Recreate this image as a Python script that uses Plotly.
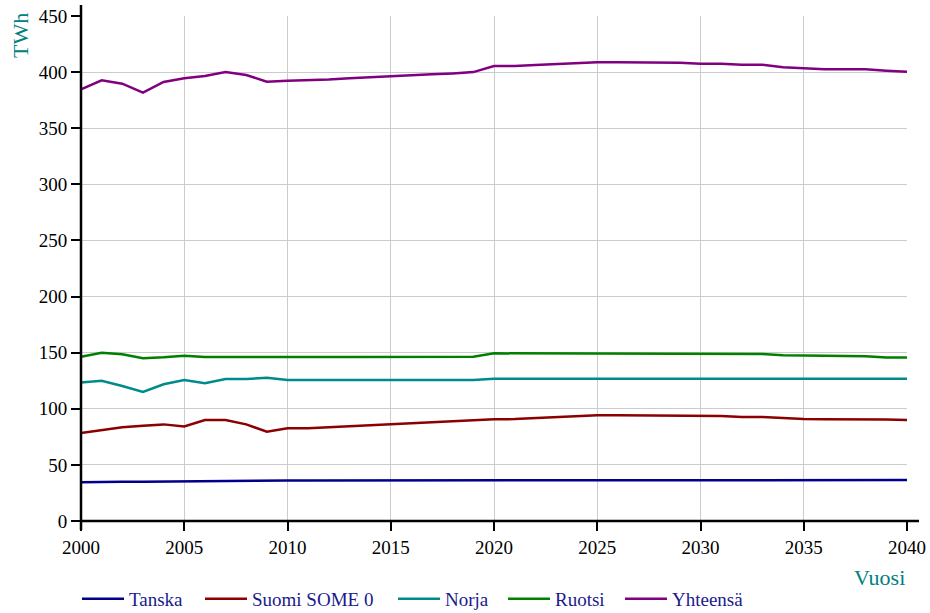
import plotly.graph_objects as go

years = list(range(2000, 2041))

tanska = [34.5, 35.0, 35.0, 35.0, 35.2, 35.5, 35.8, 36.0, 36.1, 36.1, 36.1,
          36.1, 36.1, 36.1, 36.1, 36.1, 36.1, 36.1, 36.1, 36.1, 36.5,
          36.5, 36.5, 36.5, 36.5, 36.5, 36.5, 36.5, 36.5, 36.5, 36.5,
          36.5, 36.5, 36.5, 36.5, 36.5, 36.5, 36.5, 36.5, 36.5, 36.5]

suomi = [78.4, 80.8, 83.5, 84.9, 86.1, 84.3, 90.0, 90.0, 86.1, 79.6, 82.6,
         82.6, 83.5, 84.3, 85.3, 86.3, 87.3, 87.6, 88.6, 89.6, 90.6,
         90.8, 91.6, 92.5, 93.4, 94.2, 94.2, 94.2, 93.6, 93.6, 93.6,
         93.6, 92.6, 92.6, 91.8, 90.9, 90.7, 90.7, 90.7, 90.5, 89.9]

norja = [123.5, 125.0, 120.3, 115.0, 121.8, 125.6, 122.7, 126.5, 126.5, 127.7, 125.6,
         125.6, 125.6, 125.6, 125.6, 125.6, 125.6, 125.6, 125.6, 125.6, 126.8,
         126.8, 126.8, 126.8, 126.8, 126.8, 126.8, 126.8, 126.8, 126.8, 126.8,
         126.8, 126.8, 126.8, 126.8, 126.8, 126.8, 126.8, 126.8, 126.8, 126.8]

ruotsi = [146.4, 150.0, 148.5, 145.0, 145.9, 147.3, 146.1, 146.0, 146.0, 146.0, 146.0,
          146.0, 146.1, 146.1, 146.2, 146.2, 146.3, 146.3, 146.4, 146.4, 149.4,
          149.4, 149.4, 149.4, 149.4, 149.4, 149.4, 149.4, 149.4, 149.4, 148.8,
          148.8, 148.8, 148.8, 147.8, 147.6, 146.8, 146.8, 146.8, 145.8, 145.8]

yhteensa = [384.7, 392.7, 389.7, 381.7, 391.2, 394.5, 396.5, 400.1, 397.4, 391.5, 392.4,
            392.7, 393.5, 394.5, 395.5, 396.5, 397.5, 398.0, 398.8, 400.0, 405.5,
            405.5, 406.3, 407.1, 408.0, 408.7, 408.7, 408.7, 408.4, 408.4, 407.5,
            407.5, 406.6, 406.6, 404.3, 403.4, 402.5, 402.5, 402.5, 401.3, 400.4]

series = [
    ("Tanska", tanska, "#00008b"),
    ("Suomi SOME 0", suomi, "#8b0000"),
    ("Norja", norja, "#008b8b"),
    ("Ruotsi", ruotsi, "#008000"),
    ("Yhteensä", yhteensa, "#800080"),
]

# left edge (px) of each legend entry along the bottom row
legend_left = [77, 200, 393, 503, 620]

FONT = "Liberation Serif"
TEAL = "#008080"

W, H = 930, 613
ml, mr, mt, mb = 81, 23, 16, 92
pw, ph = W - ml - mr, H - mt - mb

fig = go.Figure()
legend_layouts = {}
for i, (name, vals, color) in enumerate(series):
    lg = "legend" if i == 0 else f"legend{i + 1}"
    fig.add_trace(go.Scatter(x=years, y=vals, name=name, mode="lines",
                             legend=lg, line=dict(color=color, width=2.5)))
    legend_layouts[lg] = dict(
        orientation="h", xref="container", yref="container",
        x=legend_left[i] / W, xanchor="left", y=1 - 599 / H, yanchor="middle",
        font=dict(family=FONT, size=19, color="#1a1a8c"),
        itemwidth=42, bgcolor="rgba(0,0,0,0)")

fig.update_layout(
    width=W, height=H,
    margin=dict(l=ml, r=mr, t=mt, b=mb, autoexpand=False),
    paper_bgcolor="white", plot_bgcolor="white",
    font=dict(family=FONT, size=19, color="black"),
    showlegend=True,
    xaxis=dict(range=[2000, 2040], tickmode="linear", tick0=2000, dtick=5,
               showgrid=True, gridcolor="#cccccc", gridwidth=1,
               zeroline=False, showline=False, automargin=False,
               ticks="outside", ticklen=9, tickwidth=1.5, tickcolor="black",
               tickfont=dict(family=FONT, size=19, color="black")),
    yaxis=dict(range=[0, 450], tickmode="linear", tick0=0, dtick=50,
               showgrid=True, gridcolor="#cccccc", gridwidth=1,
               zeroline=False, showline=False, automargin=False,
               ticks="outside", ticklen=9, tickwidth=1.5, tickcolor="black",
               tickfont=dict(family=FONT, size=19, color="black")),
    **legend_layouts,
)

# axis lines that run a little past the plotted range
fig.add_shape(type="line", xref="paper", yref="paper",
              x0=0, x1=1 + 12 / pw, y0=0, y1=0,
              line=dict(color="black", width=2.5))
fig.add_shape(type="line", xref="paper", yref="paper",
              x0=0, x1=0, y0=-9 / ph, y1=1 + 11 / ph,
              line=dict(color="black", width=2.5))

fig.add_annotation(text="TWh", xref="paper", yref="paper",
                   x=-61 / pw, y=1 - 20 / ph, xanchor="center", yanchor="middle",
                   textangle=-90, showarrow=False,
                   font=dict(family=FONT, size=22, color=TEAL))
fig.add_annotation(text="Vuosi", xref="paper", yref="paper",
                   x=1, y=-56 / ph, xanchor="right", yanchor="middle",
                   showarrow=False,
                   font=dict(family=FONT, size=22, color=TEAL))

fig.write_html("out.html")
